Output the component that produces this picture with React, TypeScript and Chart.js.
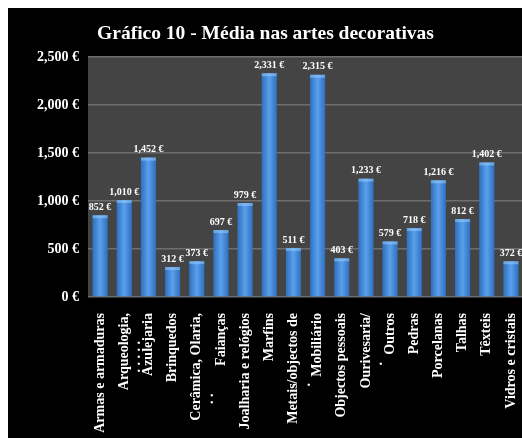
import React, { useEffect, useRef } from "react";
import { Chart, registerables } from "chart.js";

Chart.register(...registerables);

const chartTitle = "Gráfico 10 - Média nas artes decorativas";

const categories: (string | string[])[] = [
  "Armas e armaduras",
  ["Arqueologia,", ". . . . .        "],
  "Azulejaria",
  "Brinquedos",
  ["Cerâmica, Olaria,", ". .                       "],
  "Faianças",
  "Joalharia e relógios",
  "Marfins",
  ["Metais/objectos de", ".                    "],
  "Mobiliário",
  "Objectos pessoais",
  ["Ourivesaria/", ".              "],
  "Outros",
  "Pedras",
  "Porcelanas",
  "Talhas",
  "Têxteis",
  "Vidros e cristais",
];

const averages = [852, 1010, 1452, 312, 373, 697, 979, 2331, 511, 2315, 403, 1233, 579, 718, 1216, 812, 1402, 372];

const yTicks = [0, 500, 1000, 1500, 2000, 2500];

const fmt = (v: number) => v.toLocaleString("en-US") + " €";

const FONT = "'Liberation Serif', 'Times New Roman', serif";

const bgPlugin = {
  id: "bgPlugin",
  beforeDraw(chart: any) {
    const { ctx, chartArea, width, height } = chart;
    ctx.save();
    ctx.fillStyle = "#000000";
    ctx.fillRect(0, 0, width, height);
    ctx.fillStyle = "#444444";
    ctx.fillRect(chartArea.left, chartArea.top, chartArea.right - chartArea.left, chartArea.bottom - chartArea.top);
    ctx.restore();
  },
};

const barDecor = {
  id: "barDecor",
  afterDatasetsDraw(chart: any) {
    const { ctx } = chart;
    const meta = chart.getDatasetMeta(0);
    ctx.save();
    meta.data.forEach((bar: any, i: number) => {
      const p = bar.getProps(["x", "y", "base", "width"], true);
      const l = p.x - p.width / 2;
      const g = ctx.createLinearGradient(l, 0, l + p.width, 0);
      g.addColorStop(0, "rgba(20,60,130,0.3)");
      g.addColorStop(0.45, "rgba(140,195,255,0.35)");
      g.addColorStop(0.55, "rgba(140,195,255,0.35)");
      g.addColorStop(1, "rgba(20,60,130,0.3)");
      ctx.fillStyle = g;
      ctx.fillRect(l, p.y, p.width, p.base - p.y);
      ctx.fillStyle = "rgba(160,210,255,0.5)";
      ctx.fillRect(l, p.y, p.width, 3);
      ctx.fillStyle = "#ffffff";
      ctx.font = "bold 10px " + FONT;
      ctx.textAlign = "center";
      ctx.textBaseline = "bottom";
      ctx.fillText(fmt(averages[i]), p.x, p.y - 3);
    });
    ctx.restore();
  },
};

export default function App() {
  const ref = useRef<HTMLCanvasElement | null>(null);
  useEffect(() => {
    if (!ref.current) return;
    const chart = new Chart(ref.current, {
      type: "bar",
      data: {
        labels: categories,
        datasets: [
          {
            data: averages,
            backgroundColor: "#3b88dc",
            borderWidth: 0,
            barPercentage: 0.62,
            categoryPercentage: 1,
          },
        ],
      },
      options: {
        animation: false,
        responsive: false,
        maintainAspectRatio: false,
        devicePixelRatio: 1,
        layout: { padding: { left: 0, right: 0, top: 0, bottom: 0 } },
        plugins: {
          legend: { display: false },
          tooltip: { enabled: false },
          title: {
            display: true,
            text: chartTitle,
            color: "#ffffff",
            font: { family: FONT, size: 19.5, weight: "bold" },
            padding: { top: 14, bottom: 11.6 },
          },
        },
        scales: {
          x: {
            grid: { display: false },
            border: { display: false },
            ticks: {
              color: "#ffffff",
              font: { family: FONT, size: 14, weight: "bold", lineHeight: 0.9 },
              minRotation: 90,
              maxRotation: 90,
              autoSkip: false,
              padding: 8,
            },
            afterFit: (s: any) => {
              s.height = 141;
              s.paddingLeft = 0;
              s.paddingRight = 0;
            },
          },
          y: {
            min: 0,
            max: 2500,
            afterBuildTicks: (s: any) => {
              s.ticks = yTicks.map((v) => ({ value: v }));
            },
            grid: { color: "#6e6e6e", lineWidth: 1.5, drawTicks: false },
            border: { display: false },
            ticks: {
              color: "#ffffff",
              font: { family: FONT, size: 14, weight: "bold" },
              padding: 9,
              callback: (v: any) => fmt(Number(v)),
            },
            afterFit: (s: any) => {
              s.width = 80;
            },
          },
        },
      },
      plugins: [bgPlugin, barDecor],
    });
    return () => chart.destroy();
  }, []);
  return (
    <div style={{ position: "fixed", left: 8, top: 8, width: 515, height: 430 }}>
      <canvas ref={ref} width={515} height={430} style={{ display: "block", width: 515, height: 430 }} />
    </div>
  );
}
